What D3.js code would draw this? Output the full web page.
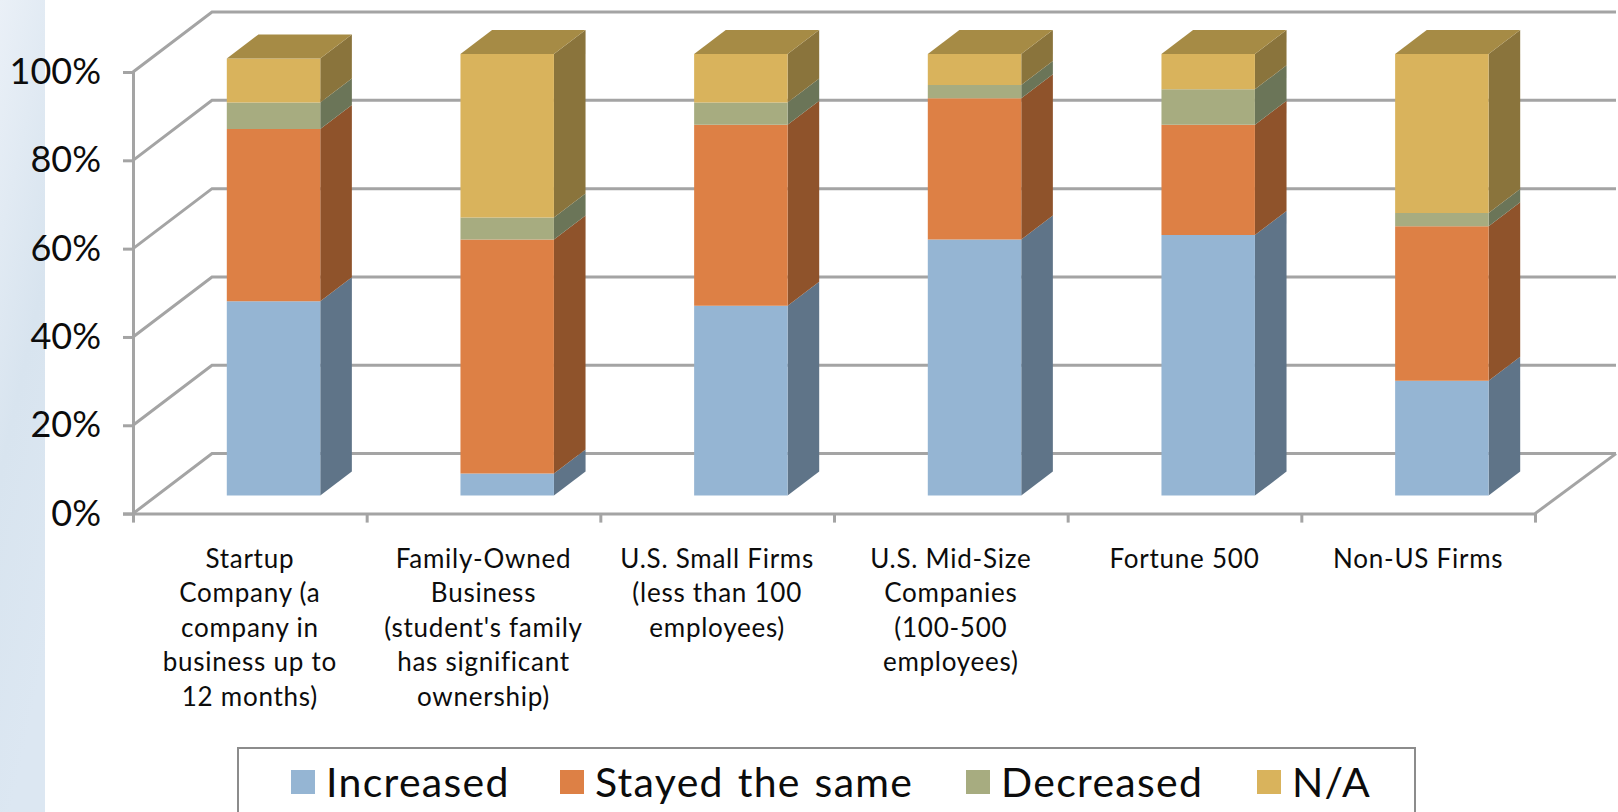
<!DOCTYPE html>
<html>
<head>
<meta charset="utf-8">
<script src="https://cdn.jsdelivr.net/npm/d3@7"></script>
<style>
body { margin: 0; background: #fff; }
svg { display: block; }
text { font-family: Lato, "Open Sans", sans-serif; fill: #0c0c0c; }
.wall { stroke: #a4a4a4; stroke-width: 3; fill: none; }
</style>
</head>
<body>
<script>
var categories = ["Startup", "Family-Owned", "U.S. Small", "U.S. Mid-Size", "Fortune 500", "Non-US"];
var categoryLines = [
	["Startup", "Company (a", "company in", "business up to", "12 months)"],
	["Family-Owned", "Business", "(student's family", "has significant", "ownership)"],
	["U.S. Small Firms", "(less than 100", "employees)"],
	["U.S. Mid-Size", "Companies", "(100-500", "employees)"],
	["Fortune 500"],
	["Non-US Firms"]
];
var seriesNames = ["Increased", "Stayed the same", "Decreased", "N/A"];
var increased = [44, 5, 43, 58, 59, 26];
var stayed = [39, 53, 41, 32, 25, 35];
var decreased = [6, 5, 5, 3, 8, 3];
var na = [10, 37, 11, 7, 8, 36];
var yTicks = [0, 20, 40, 60, 80, 100];

var frontColors = ["#95b5d3", "#dd8045", "#a7ac80", "#d9b35c"];
var sideColors = ["#5f7488", "#8f532b", "#6b7558", "#8a743c"];
var topColor = "#a68b45";

var width = 1618,
	height = 812;

// the 3d box: front plane, and how far the back wall is shifted from it
var left = 133, right = 1535, top0 = 72, bottom = 513.6;
var depthX = 79, depthY = 60;
var barFront = 0.3, barBack = 0.7;

var svg = d3.select("body").append("svg")
	.attr("width", width)
	.attr("height", height);

var defs = svg.append("defs");
var grad = defs.append("linearGradient")
	.attr("id", "panel")
	.attr("x1", 0).attr("y1", 0).attr("x2", 0.25).attr("y2", 1);
grad.append("stop").attr("offset", "0%").attr("stop-color", "#eaf0f7");
grad.append("stop").attr("offset", "55%").attr("stop-color", "#d8e4ef");
grad.append("stop").attr("offset", "100%").attr("stop-color", "#dce7f2");

svg.append("rect")
	.attr("width", 45)
	.attr("height", height)
	.attr("fill", "url(#panel)");

var x = d3.scaleBand()
	.domain(categories)
	.range([left, right])
	.paddingInner(0)
	.paddingOuter(0);

var barX = d3.scaleBand()
	.domain(categories)
	.range([left, right])
	.paddingInner(0.6)
	.paddingOuter(0.3);

var y = d3.scaleLinear()
	.domain([0, 100])
	.range([bottom, top0]);

// back wall and side wall gridlines
var g_wall = svg.append("g");
yTicks.forEach(function(t) {
	g_wall.append("path")
		.attr("class", "wall")
		.attr("d", d3.line()([
			[left, y(t)],
			[left + depthX, y(t) - depthY],
			[right + depthX + 2, y(t) - depthY]
		]));
});
g_wall.append("path")
	.attr("class", "wall")
	.attr("d", d3.line()([[right, bottom], [right + depthX + 2, bottom - depthY]]));

// axes
var yAxis = d3.axisLeft(y)
	.tickValues(yTicks)
	.tickSize(10)
	.tickPadding(22)
	.tickFormat(function(d) { return d + "%"; });

var g_y = svg.append("g")
	.attr("transform", "translate(" + left + ",0)")
	.call(yAxis);
g_y.selectAll("line").attr("stroke", "#a4a4a4").attr("stroke-width", 3);
g_y.select(".domain").attr("stroke", "#a4a4a4").attr("stroke-width", 3);
g_y.selectAll("text")
	.style("font-family", "Lato")
	.style("font-size", "36px")
	.attr("fill", "#0c0c0c");

var tickPos = [left].concat(categories.map(function(c) { return x(c) + x.bandwidth(); }));
var xAxis = d3.axisBottom(d3.scaleLinear().domain([left, right]).range([left, right]))
	.tickValues(tickPos)
	.tickSize(9)
	.tickSizeOuter(0)
	.tickFormat("");

var g_x = svg.append("g")
	.attr("transform", "translate(0," + bottom + ")")
	.call(xAxis);
g_x.selectAll("line").attr("stroke", "#a4a4a4").attr("stroke-width", 3);
g_x.select(".domain").attr("stroke", "#a4a4a4").attr("stroke-width", 3);

// category labels
var g_cat = svg.append("g");
categories.forEach(function(c, i) {
	var label = g_cat.append("text")
		.attr("text-anchor", "middle")
		.style("font-size", "26px")
		.style("letter-spacing", "0.75px");
	categoryLines[i].forEach(function(line, j) {
		label.append("tspan")
			.attr("x", x(c) + x.bandwidth() / 2)
			.attr("y", 567.5 + j * 34.6)
			.text(line);
	});
});

// stacked 3d bars
var rows = categories.map(function(c, i) {
	return {name: c, 0: increased[i], 1: stayed[i], 2: decreased[i], 3: na[i]};
});
var stacked = d3.stack().keys([0, 1, 2, 3])(rows);

function pt(px, v, depth) {
	return [px + depth * depthX, y(v) - depth * depthY];
}

var g_bars = svg.append("g");
stacked.forEach(function(layer, s) {
	var g_layer = g_bars.append("g");
	layer.forEach(function(d) {
		var x0 = barX(d.data.name),
			x1 = x0 + barX.bandwidth();
		// side face
		g_layer.append("polygon")
			.attr("fill", sideColors[s])
			.attr("points", [
				pt(x1, d[0], barFront), pt(x1, d[0], barBack),
				pt(x1, d[1], barBack), pt(x1, d[1], barFront)
			].join(" "));
		// front face
		g_layer.append("polygon")
			.attr("fill", frontColors[s])
			.attr("points", [
				pt(x0, d[0], barFront), pt(x1, d[0], barFront),
				pt(x1, d[1], barFront), pt(x0, d[1], barFront)
			].join(" "));
		// top face of the last series
		if (s == stacked.length - 1) {
			g_layer.append("polygon")
				.attr("fill", topColor)
				.attr("points", [
					pt(x0, d[1], barFront), pt(x1, d[1], barFront),
					pt(x1, d[1], barBack), pt(x0, d[1], barBack)
				].join(" "));
		}
	});
});

// legend, runs off the bottom of the picture like the original
svg.append("rect")
	.attr("x", 238)
	.attr("y", 748)
	.attr("width", 1177)
	.attr("height", 80)
	.attr("fill", "#fff")
	.attr("stroke", "#8c8c8c")
	.attr("stroke-width", 2);

var legendX = d3.scaleOrdinal()
	.domain(seriesNames)
	.range([291, 560, 966, 1257]);

seriesNames.forEach(function(name, s) {
	svg.append("rect")
		.attr("x", legendX(name))
		.attr("y", 770)
		.attr("width", 24)
		.attr("height", 24)
		.attr("fill", frontColors[s]);
	svg.append("text")
		.attr("x", legendX(name) + 35)
		.attr("y", 797)
		.style("font-size", "41px")
		.style("letter-spacing", "1.3px")
		.style("word-spacing", "2px")
		.text(name);
});
</script>
</body>
</html>
